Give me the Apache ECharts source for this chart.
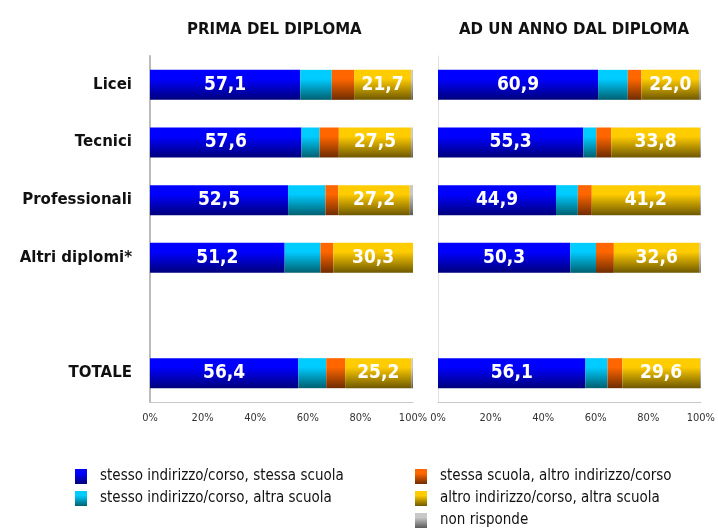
<!DOCTYPE html>
<html>
<head>
<meta charset="utf-8">
<script src="https://cdn.jsdelivr.net/npm/echarts@6/dist/echarts.min.js"></script>
<style>
    html, body { margin: 0; padding: 0; background: #fff; }
    #chart { width: 718px; height: 532px; }
</style>
</head>
<body>
<div id="chart"></div>
<script>
    // categorie (riga vuota tra Altri diplomi e TOTALE)
    const categories = ['Licei', 'Tecnici', 'Professionali', 'Altri diplomi*', '', 'TOTALE']
    const seriesNames = [
        'stesso indirizzo/corso, stessa scuola',
        'stesso indirizzo/corso, altra scuola',
        'stessa scuola, altro indirizzo/corso',
        'altro indirizzo/corso, altra scuola',
        'non risponde'
    ]
    const panelTitles = ['PRIMA DEL DIPLOMA', 'AD UN ANNO DAL DIPLOMA']
    const xTicks = ['0%', '20%', '40%', '60%', '80%', '100%']

    // prima del diploma
    const primaStessoStessa = [57.1, 57.6, 52.5, 51.2, '-', 56.4]
    const primaStessoAltra  = [12.0, 6.9, 14.2, 13.6, '-', 10.6]
    const primaAltroStessa  = [8.5, 7.3, 4.9, 4.9, '-', 7.2]
    const primaAltroAltra   = [21.7, 27.5, 27.2, 30.3, '-', 25.2]
    const primaNonRisp      = [0.7, 0.7, 1.2, 0.0, '-', 0.6]

    // ad un anno dal diploma
    const annoStessoStessa = [60.9, 55.3, 44.9, 50.3, '-', 56.1]
    const annoStessoAltra  = [11.3, 4.9, 8.3, 9.8, '-', 8.4]
    const annoAltroStessa  = [5.2, 5.7, 5.3, 6.8, '-', 5.6]
    const annoAltroAltra   = [22.0, 33.8, 41.2, 32.6, '-', 29.6]
    const annoNonRisp      = [0.6, 0.3, 0.3, 0.5, '-', 0.3]

    const colori = [
        ['#0000ff', '#00007a'],
        ['#00ccff', '#006070'],
        ['#ff6600', '#6e2c00'],
        ['#ffcc00', '#6e5800'],
        ['#c8c8c8', '#5a5a5a']
    ]

    function grad(c) {
        return new echarts.graphic.LinearGradient(0, 0, 0, 1, [
            {offset: 0, color: c[0]},
            {offset: 0.3, color: c[0]},
            {offset: 1, color: c[1]}
        ])
    }

    let chart = echarts.init(document.getElementById('chart'))

    let panels = [
        [primaStessoStessa, primaStessoAltra, primaAltroStessa, primaAltroAltra, primaNonRisp],
        [annoStessoStessa, annoStessoAltra, annoAltroStessa, annoAltroAltra, annoNonRisp]
    ]

    let series = []
    panels.forEach((dati, p) => {
        dati.forEach((d, i) => {
            series.push({
                name: seriesNames[i],
                type: 'bar',
                stack: 'p' + p,
                xAxisIndex: p,
                yAxisIndex: p,
                barWidth: 30,
                data: d,
                itemStyle: {color: grad(colori[i])},
                label: {
                    show: i === 0 || i === 3,
                    position: 'inside',
                    color: '#fff',
                    fontFamily: 'DejaVu Sans Condensed',
                    fontWeight: 'bold',
                    fontSize: 19,
                    formatter: (v) => v.value.toFixed(1).replace('.', ',')
                }
            })
        })
    })

    let xAxisBase = {
        type: 'value',
        min: 0,
        max: 100,
        interval: 20,
        splitLine: {show: false},
        axisTick: {show: false},
        axisLine: {show: true, lineStyle: {color: '#c8c8c8', width: 1}},
        axisLabel: {
            color: '#333',
            fontFamily: 'DejaVu Sans Condensed',
            fontSize: 11,
            margin: 11,
            formatter: (v) => xTicks[v / 20]
        }
    }

    let legendBase = {
        orient: 'vertical',
        icon: 'rect',
        padding: 0,
        height: 70,
        itemWidth: 12,
        itemHeight: 15,
        itemGap: 7,
        textStyle: {fontFamily: 'DejaVu Sans Condensed', fontSize: 15, color: '#111', padding: [0, 0, 0, 8]}
    }

    let titleStyle = {fontFamily: 'DejaVu Sans', fontWeight: 'bold', fontSize: 15, color: '#111'}

    let options = {
        animation: false,
        title: [
            {text: panelTitles[0], left: 182, top: 18, textStyle: titleStyle},
            {text: panelTitles[1], left: 454, top: 18, textStyle: titleStyle}
        ],
        legend: [
            Object.assign({left: 75, top: 469, data: seriesNames.slice(0, 2)}, legendBase),
            Object.assign({left: 415, top: 469, data: seriesNames.slice(2)}, legendBase)
        ],
        grid: [
            {left: 150, width: 263, top: 56, height: 346},
            {left: 438, width: 265, top: 56, height: 346}
        ],
        xAxis: [
            Object.assign({gridIndex: 0}, xAxisBase),
            Object.assign({gridIndex: 1}, xAxisBase)
        ],
        yAxis: [
            {
                type: 'category',
                gridIndex: 0,
                inverse: true,
                data: categories,
                axisTick: {show: false},
                axisLine: {show: true, lineStyle: {color: '#bbbbbb', width: 2}},
                axisLabel: {
                    color: '#111',
                    fontFamily: 'DejaVu Sans',
                    fontWeight: 'bold',
                    fontSize: 15,
                    margin: 18
                }
            },
            {
                type: 'category',
                gridIndex: 1,
                inverse: true,
                position: 'right',
                data: categories,
                axisTick: {show: false},
                axisLine: {show: true, lineStyle: {color: '#e0e0e0', width: 1}},
                axisLabel: {show: false}
            }
        ],
        series: series
    }
    chart.setOption(options)
</script>
</body>
</html>
